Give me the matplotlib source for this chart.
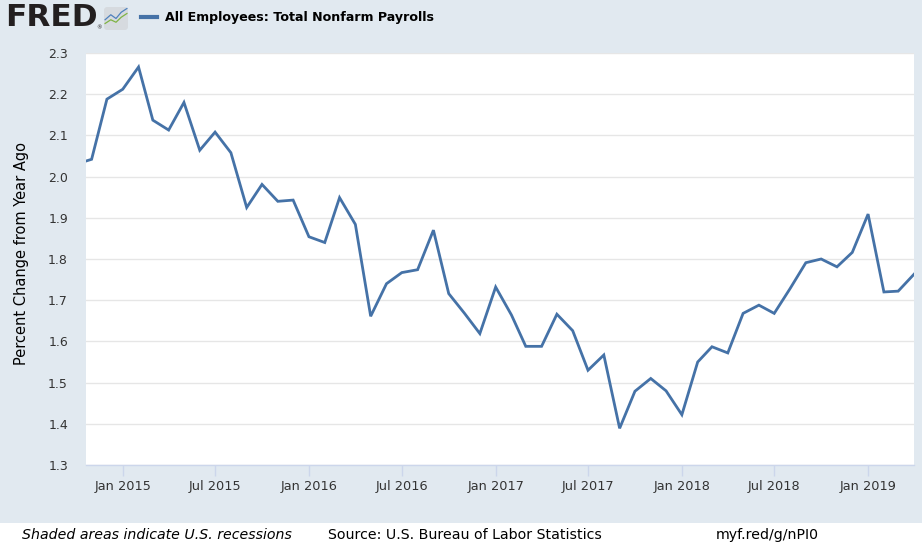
import matplotlib.pyplot as plt
from matplotlib.patches import FancyBboxPatch
from matplotlib.lines import Line2D
import pandas as pd

# monthly percent change from year ago, Oct 2014 .. Apr 2019
dates = pd.date_range("2014-10-01", "2019-04-01", freq="MS")
pct_change = [
    2.030, 2.042, 2.188,
    2.212, 2.266, 2.137, 2.113, 2.180, 2.064, 2.108, 2.058, 1.925, 1.981, 1.940, 1.943,
    1.854, 1.840, 1.949, 1.884, 1.661, 1.740, 1.767, 1.774, 1.870, 1.716, 1.668, 1.619,
    1.732, 1.664, 1.588, 1.588, 1.666, 1.626, 1.530, 1.567, 1.389, 1.479, 1.510, 1.480,
    1.422, 1.550, 1.587, 1.572, 1.668, 1.688, 1.668, 1.728, 1.791, 1.800, 1.781, 1.816,
    1.909, 1.720, 1.722, 1.763,
]
y_ticks = [1.3, 1.4, 1.5, 1.6, 1.7, 1.8, 1.9, 2.0, 2.1, 2.2, 2.3]
x_ticks = pd.date_range("2015-01-01", "2019-01-01", freq="6MS")
x_labels = [d.strftime("%b %Y") for d in x_ticks]

bg = "#e1e9f0"
line_col = "#4572a7"
txt_col = "#333333"

W, H = 922, 550
fig = plt.figure(figsize=(W / 100, H / 100), dpi=100)
fig.patch.set_facecolor("white")

# light blue panel behind everything except the footer
fig.patches.append(plt.Rectangle((0, 1 - 523 / H), 1, 523 / H, transform=fig.transFigure,
                                 facecolor=bg, edgecolor="none", zorder=-10))

ax = fig.add_axes([86 / W, 1 - 465 / H, (914 - 86) / W, (465 - 53) / H])
ax.set_facecolor("white")
ax.plot(dates, pct_change, color=line_col, lw=2.0, solid_joinstyle="miter", zorder=3)

ax.set_xlim(pd.Timestamp("2014-10-21"), pd.Timestamp("2019-04-01"))
ax.set_ylim(1.3, 2.3)
ax.set_yticks(y_ticks)
ax.set_yticklabels([f"{v:.1f}" for v in y_ticks])
ax.set_xticks(x_ticks)
ax.set_xticklabels(x_labels)

ax.grid(axis="y", color="#e6e6e6", lw=1)
ax.set_axisbelow(True)
for s in ["top", "right", "left"]:
    ax.spines[s].set_visible(False)
ax.spines["bottom"].set_color("#ccd6eb")
ax.spines["bottom"].set_linewidth(1)
ax.tick_params(axis="x", colors="#ccd6eb", length=8, width=1, direction="out",
               labelcolor=txt_col, labelsize=9.3, pad=2.5)
ax.tick_params(axis="y", length=0, labelcolor=txt_col, labelsize=9, pad=13)

fig.text(21.5 / W, 1 - 253.5 / H, "Percent Change from Year Ago", fontsize=10.5,
         rotation=90, color="black", va="center", ha="center")

# header: FRED logo, icon, legend
fig.text(5 / W, 1 - 18 / H, "FRED", fontsize=22.5, fontweight="bold", color="#231f20",
         va="center", ha="left")
fig.text(96 / W, 1 - 28 / H, "®", fontsize=4, color="#231f20", va="center")
icon = fig.add_axes([103 / W, 1 - 31 / H, 26 / W, 25 / H])
icon.set_xlim(0, 1)
icon.set_ylim(0, 1)
icon.axis("off")
icon.add_patch(FancyBboxPatch((0.04, 0.04), 0.92, 0.92, boxstyle="round,pad=0,rounding_size=0.12",
                              facecolor="#d6dadf", edgecolor="none"))
icon.plot([0.08, 0.3, 0.5, 0.7, 0.92], [0.45, 0.65, 0.5, 0.75, 0.9], color="#4f81bd", lw=0.9)
icon.plot([0.08, 0.3, 0.5, 0.7, 0.92], [0.3, 0.45, 0.35, 0.55, 0.7], color="#7fb344", lw=0.9)

fig.lines.append(Line2D([141 / W, 157 / W], [1 - 16.7 / H, 1 - 16.7 / H], transform=fig.transFigure,
                        color=line_col, lw=3))
fig.text(165 / W, 1 - 17 / H, "All Employees: Total Nonfarm Payrolls", fontsize=9.1,
         fontweight="bold", color="black", va="center", ha="left")

# footer
fig.text(22 / W, 1 - 535 / H, "Shaded areas indicate U.S. recessions", fontsize=10.2,
         style="italic", color="black", va="center", ha="left")
fig.text(328 / W, 1 - 535 / H, "Source: U.S. Bureau of Labor Statistics", fontsize=10.2,
         color="black", va="center", ha="left")
fig.text(716 / W, 1 - 535 / H, "myf.red/g/nPI0", fontsize=10.2, color="black",
         va="center", ha="left")

fig.savefig("out.png", dpi=100, facecolor=fig.get_facecolor())
